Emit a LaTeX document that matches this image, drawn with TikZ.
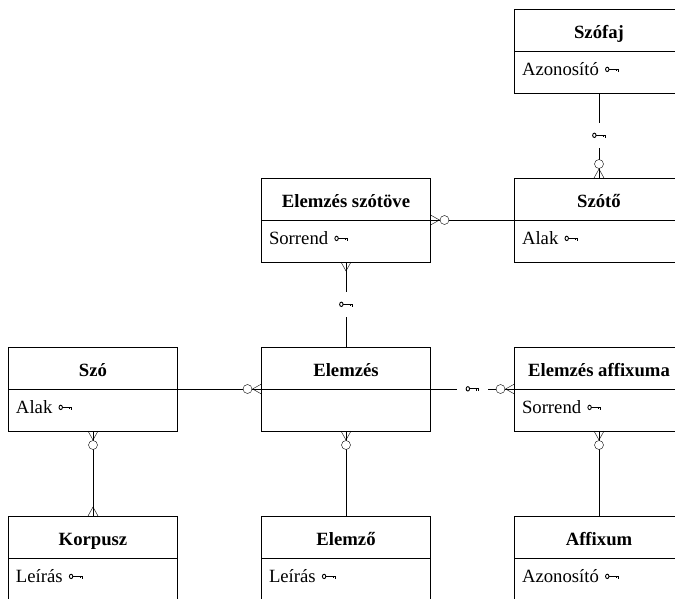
\documentclass[tikz,border=0pt]{standalone}
\usepackage{fontspec}
\setmainfont{Liberation Serif}
\usetikzlibrary{positioning}
\tikzset{
        x=1pt, y=1pt, % one unit is one point
        node distance=85pt, % vertical gap between the tables
        line width=0.8pt,
    }
\tikzset{
      entity/.style={
		draw,
		outer sep=0pt,
		inner sep=0pt,
		minimum width=169pt,
		minimum height=42pt,
		text height=18pt,
		text depth=2pt,
		font=\fontsize{18.7}{22}\selectfont\bfseries,
	  },
      attrs/.style={
		draw,
		outer sep=0pt,
		inner xsep=7.5pt,
		inner ysep=0pt,
		text width=154pt,
		align=left,
		minimum height=42pt,
		text height=10pt,
		text depth=4pt,
		font=\fontsize{18.7}{22}\selectfont,
	  },
      keygap/.style={
		fill=white,
		inner xsep=8.5pt,
		inner ysep=10pt,
	  },
      many/.pic={\draw (0,-5) -- (9,0) -- (0,5);},
      zeromany/.pic={
		\draw (0,-5) -- (9,0) -- (0,5);
		\draw[fill=white] (14,0) circle (4.5);
	  },
  	}
% key symbol
\newcommand\kulcs[1][-5.6pt]{\tikz[baseline=#1, line width=0.9pt]{%
  \draw (2,0) ellipse (1.7 and 2.2);
  \draw (3.7,0) -- (13,0) -- (13,-2.6);
  \draw (11,0) -- (11,-1.8);}}

\begin{document}
\begin{tikzpicture}
    \useasboundingbox (0,0) rectangle (675,-598);
    % middle row
    \node [entity] (szo) at (93,-368) {Szó};
    \node [attrs, below=0pt of szo] (szo-attr) {Alak \kulcs};
    \node [entity, right=84pt of szo] (elemzes) {Elemzés};
    \node [attrs, below=0pt of elemzes] (elemzes-attr) {};
    \node [entity, right=84pt of elemzes] (affix) {Elemzés affixuma};
    \node [attrs, below=0pt of affix] (affix-attr) {Sorrend \kulcs};
    % upper rows
    \node [attrs, above=of elemzes] (eszt-attr) {Sorrend \kulcs};
    \node [entity, above=0pt of eszt-attr] (eszt) {Elemzés szótöve};
    \node [entity, right=84pt of eszt] (szoto) {Szótő};
    \node [attrs, below=0pt of szoto] (szoto-attr) {Alak \kulcs};
    \node [attrs, above=of szoto] (szofaj-attr) {Azonosító \kulcs};
    \node [entity, above=0pt of szofaj-attr] (szofaj) {Szófaj};
    % bottom row
    \node [entity, below=of szo-attr] (korpusz) {Korpusz};
    \node [attrs, below=0pt of korpusz] (korpusz-attr) {Leírás \kulcs};
    \node [entity, below=of elemzes-attr] (elemzo) {Elemző};
    \node [attrs, below=0pt of elemzo] (elemzo-attr) {Leírás \kulcs};
    \node [entity, below=of affix-attr] (affixum) {Affixum};
    \node [attrs, below=0pt of affixum] (affixum-attr) {Azonosító \kulcs};

    % relationships
    \draw (szofaj-attr) -- node[keygap] {\kulcs[0pt]} (szoto);
    \pic [rotate=90] at (szoto.north) {zeromany};
    \draw (eszt.south east) -- (szoto.south west);
    \pic at (eszt.south east) {zeromany};
    \draw (eszt-attr) -- node[keygap] {\kulcs[0pt]} (elemzes);
    \pic [rotate=-90] at (eszt-attr.south) {many};
    \draw (szo.south east) -- (elemzes.south west);
    \pic [rotate=180] at (elemzes.south west) {zeromany};
    \draw (elemzes.south east) -- node[keygap] {\kulcs[0pt]} (affix.south west);
    \pic [rotate=180] at (affix.south west) {zeromany};
    \draw (szo-attr) -- (korpusz);
    \pic [rotate=-90] at (szo-attr.south) {zeromany};
    \pic [rotate=90] at (korpusz.north) {many};
    \draw (elemzes-attr) -- (elemzo);
    \pic [rotate=-90] at (elemzes-attr.south) {zeromany};
    \draw (affix-attr) -- (affixum);
    \pic [rotate=-90] at (affix-attr.south) {zeromany};
\end{tikzpicture}
\end{document}
